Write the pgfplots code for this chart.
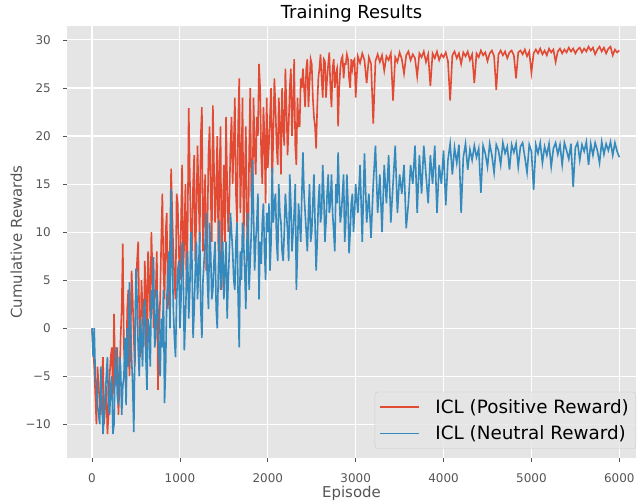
\documentclass[border=0pt]{standalone}
\usepackage{pgfplots}
\pgfplotsset{compat=1.18}
\usepackage{pgfplotstable}
\usepackage{fontspec}
\setmainfont{DejaVu Sans}
\definecolor{bgc}{HTML}{E5E5E5}
\definecolor{redc}{HTML}{E24A33}
\definecolor{bluec}{HTML}{348ABD}
\definecolor{txtc}{HTML}{555555}
\definecolor{legedge}{HTML}{CCCCCC}

\pgfplotstableread{
ep pos neu
0 0 0
12.5 -2 -3
25 -4 0
37.5 -7 -5
50 -10 -6
62.5 -4 -8
75 -6 -9
87.5 -8 -10
100 -9 -4
112.5 -5 -7
125 -3 -11
137.5 -10 -9
150 -8 -7
162.5 -6 -5
175 -11 -3
187.5 -9 -8
200 -5 -9
212.5 -3 -6
225 -2 -5
237.5 -7 -11
250 1.5 -10
262.5 -4 -4
275 -6 -2
287.5 -2 -7
300 -9 -8
312.5 -6 -3
325 -1 -4
337.5 2 -9
350 8.8 -6
362.5 -2 -5
375 -4 -1
387.5 -7 -8
400 2 0
412.5 4 -4
425 -5 4.8
437.5 -2 1
450 6 -3
462.5 3 -6
475 -1 -10.8
487.5 -4 -2
500 4 6.2
512.5 7 3
525 9 -2
537.5 1 -5
550 -3 1
562.5 5 -1
575 2 -4
587.5 -2 2
600 7 3
612.5 4 -3
625 -4 -6.4
637.5 8 1
650 5 0
662.5 1 -4
675 10 4
687.5 6 2
700 0 7.4
712.5 3 -2
725 4 -1
737.5 8 4
750 -6.4 2
762.5 0 -3
775 3 -5
787.5 9 1
800 14 -2
812.5 6 4
825 3 -7.8
837.5 10 -4
850 12 3
862.5 2 5
875 6 8
887.5 9 0
900 16.6 14.5
912.5 12 8
925 8 2
937.5 5 -1
950 3 -3
962.5 14 3
975 13 6
987.5 8 7
1000 5 0
1012.5 11 3
1025 17 9
1037.5 6 6
1050 9 -2.3
1062.5 15 1
1075 4 5
1087.5 10 8
1100 22.9 1
1112.5 16 4
1125 10 10
1137.5 8 7
1150 15 -1
1162.5 18 2
1175 7 6
1187.5 12 9
1200 19 3
1212.5 14 6
1225 9 10
1237.5 20 2
1250 23 -1
1262.5 8 5
1275 12 7
1287.5 16 9
1300 6 12
1312.5 10 5
1325 18 2
1337.5 21 11
1350 14 8
1362.5 9 3
1375 23.2 4
1387.5 17 7
1400 11 9
1412.5 14 2
1425 20 0
1437.5 8 6
1450 16 11.2
1462.5 21 4
1475 4 6
1487.5 12 9
1500 17 3
1512.5 9 6
1525 22 9
1537.5 15 1
1550 10 5
1562.5 13 8
1575 19 12
1587.5 22 10
1600 15 8
1612.5 19 5
1625 24 4
1637.5 14 9
1650 11 11
1662.5 21 3
1675 26 -2
1687.5 12 8
1700 17 5
1712.5 24 11
1725 9 9
1737.5 15 6
1750 21 2
1762.5 11 9
1775 7 12
1787.5 18 4
1800 25 7
1812.5 14 10
1825 12 17.5
1837.5 24 12
1850 19 6
1862.5 16 9
1875 22 11
1887.5 20 14
1900 27.5 3
1912.5 25 9
1925 18 6.7
1937.5 15 11
1950 23 13
1962.5 20 8
1975 13 5
1987.5 24 12
2000 16.7 10
2012.5 19 13
2025 22 6
2037.5 25 9
2050 15 16.7
2062.5 20 11
2075 26 13
2087.5 23 14
2100 19 9
2112.5 17 7
2125 24 15
2137.5 21 12
2150 16 11
2162.5 25 8
2175 21 7
2187.5 19 10
2200 27 14
2212.5 23 12
2225 18 10
2237.5 21 7
2250 25 16
2262.5 27 13
2275 20 8
2287.5 23 10
2300 28 12
2312.5 19 15
2325 17 4
2337.5 24 8
2350 21 13
2362.5 21 11
2375 26 9
2387.5 25 14
2400 27 18.3
2412.5 25 14
2425 23 12
2437.5 27 10
2450 28 8
2462.5 23 12
2475 25.5 15
2487.5 28 9
2500 27.5 10
2512.5 24 13
2525 22 16
2537.5 21 11
2550 18.7 6
2562.5 23 9
2575 26 13
2587.5 27 15
2600 28.5 11
2612.5 26 12
2625 24 17
2637.5 28 14
2650 27.8 9
2662.5 24 11
2675 26 14
2687.5 27.5 16
2700 28.7 12
2712.5 25 13
2725 23 16
2737.5 27 12
2750 28 10
2762.5 25 8
2775 26.5 15
2787.5 27 13
2800 21 18.3
2812.5 25 14
2825 27 11
2837.5 28 12
2850 28.3 14
2862.5 26 16
2875 27.5 9
2887.5 27.5 11
2900 28.5 16
2912.5 28 13
2925 26 7.8
2937.5 25 10
2950 28 13
2962.5 27 14
2975 27.8 10
2987.5 28 12
3000 24 15
3025 28.3 12
3050 27.6 17
3075 28.6 9
3100 27.9 18.2
3125 25.5 11
3150 28.2 14
3175 27.5 9.4
3200 21.3 15
3225 27.8 19
3250 28.5 12
3275 27.7 16
3300 28.4 10
3325 26.8 17
3350 28.3 13
3375 27.9 18
3400 28.6 11
3425 23.7 15
3450 28.2 19
3475 27.7 12
3500 28.7 16
3525 28 14
3550 26.5 17
3575 28.4 10.4
3600 28.8 13
3625 27.9 17
3650 28.5 15
3675 28.1 19
3700 26.2 12
3725 28.6 18
3750 28.2 14
3775 28.8 19
3800 27.7 16
3825 28.5 13
3850 25.2 18
3875 28.6 15
3900 28.1 19
3925 28.8 12
3950 27.9 17
3975 28.5 15
4000 28.2 18.5
4025 28.7 12.8
4050 27.8 17.5
4075 23.7 19.2
4100 28.4 16
4125 28.8 18.8
4150 28.1 17.2
4175 28.6 19.1
4200 27.5 12
4225 28.7 17.8
4250 28.3 19.2
4275 28.8 16.5
4300 27.9 18.6
4325 28.5 17.5
4350 25.5 19
4375 28.6 17.8
4400 28.2 18.7
4425 28.9 14.1
4450 28.4 19
4475 28.7 18.2
4500 27.8 16.8
4525 28.6 19.2
4550 28.9 18
4575 28.3 16.2
4600 24.8 19.1
4625 28.5 18.5
4650 28.9 17
4675 28.4 19.3
4700 28.8 18.2
4725 28.1 18.9
4750 28.7 16.5
4775 28.9 19.1
4800 28.4 18.3
4825 26 19.2
4850 28.7 16.8
4875 28.9 18.9
4900 28.5 19.3
4925 29 17.8
4950 28.3 16.2
4975 28.8 19.1
5000 26.6 18.4
5025 28.6 14.4
5050 29 19.1
5075 28.6 18.2
5100 29.1 19.3
5125 28.5 17.2
5150 28.9 18.9
5175 28.4 18
5200 29.1 19.2
5225 28.7 16.8
5250 29 18.7
5275 27.7 19.3
5300 28.8 18.1
5325 29.1 19.1
5350 28.6 17
5375 29 19.3
5400 28.7 18.5
5425 29.2 17.6
5450 28.8 19.2
5475 29.1 14.7
5500 28.6 18.8
5525 29 19.3
5550 29.2 17.5
5575 28.7 19.1
5600 29.1 18.4
5625 28.8 19.4
5650 29.3 17
5675 28.9 19.2
5700 29.2 18
5725 28.5 19.3
5750 29 18.5
5775 29.3 17.2
5800 28.8 19.4
5825 29.2 18.1
5850 28.6 19.2
5875 29.1 18.5
5900 29.3 19.4
5925 28.4 18
5950 29 19.3
5975 28.7 18.4
6000 28.9 17.8
}\datatable

\begin{document}
\begin{tikzpicture}
\begin{axis}[
  scale only axis, width=569bp, height=432bp,
  xmin=-285, xmax=6190, ymin=-13.5, ymax=31.45,
  axis background/.style={fill=bgc},
  axis line style={draw=none},
  grid=major, major grid style={white, line width=1.1bp},
  xtick={0,1000,2000,3000,4000,5000,6000},
  xticklabels={0,1000,2000,3000,4000,5000,6000},
  ytick={-10,-5,0,5,10,15,20,25,30},
  yticklabels={−10,−5,0,5,10,15,20,25,30},
  tick align=outside, major tick length=4bp,
  xtick pos=lower, ytick pos=left,
  tick style={txtc, line width=0.8bp},
  ticklabel style={font=\fontsize{12}{14}\selectfont, text=txtc, inner sep=0pt},
  xticklabel style={anchor=base, yshift=-20bp},
  yticklabel style={anchor=east, xshift=-12bp},
  title={Training Results},
  title style={at={(axis description cs:0.5,1)}, anchor=base, yshift=2bp,
    font=\fontsize{18}{20}\selectfont, text=black, inner sep=0pt},
  xlabel={Episode},
  xlabel style={at={(axis description cs:0.5,0)}, anchor=base, yshift=-39bp,
    font=\fontsize{15}{17}\selectfont, text=txtc, inner sep=0pt},
  ylabel={Cumulative Rewards},
  ylabel style={at={(axis description cs:-0.0791,0.5)}, anchor=base, rotate=0,
    font=\fontsize{15}{17}\selectfont, text=txtc, inner sep=0pt},
  legend cell align=left,
  legend image code/.code={\draw[#1] (0bp,0bp) -- (39bp,0bp);},
  legend style={at={(axis description cs:1,0)}, anchor=south east, yshift=9bp,
    fill=bgc, fill opacity=0.8, text opacity=1, draw=legedge, rounded corners=3bp,
    font=\fontsize{18.4}{22}\selectfont, text=black,
    inner xsep=4bp, inner ysep=2bp, row sep=0bp,
    nodes={inner xsep=3bp, inner ysep=5.5bp},
    /tikz/every odd column/.append style={column sep=13bp}},
]
\addplot[redc, line width=1.6bp] table[x=ep, y=pos] {\datatable};
\addlegendentry{ICL (Positive Reward)}
\addplot[bluec, line width=1.6bp] table[x=ep, y=neu] {\datatable};
\addlegendentry{ICL (Neutral Reward)}
\coordinate (bl) at (rel axis cs:0,0);
\coordinate (tr) at (rel axis cs:1,1);
\end{axis}
\pgfresetboundingbox
\path[use as bounding box] ([xshift=-67bp,yshift=-46bp]bl) rectangle ([xshift=5bp,yshift=26bp]tr);
\end{tikzpicture}
\end{document}
